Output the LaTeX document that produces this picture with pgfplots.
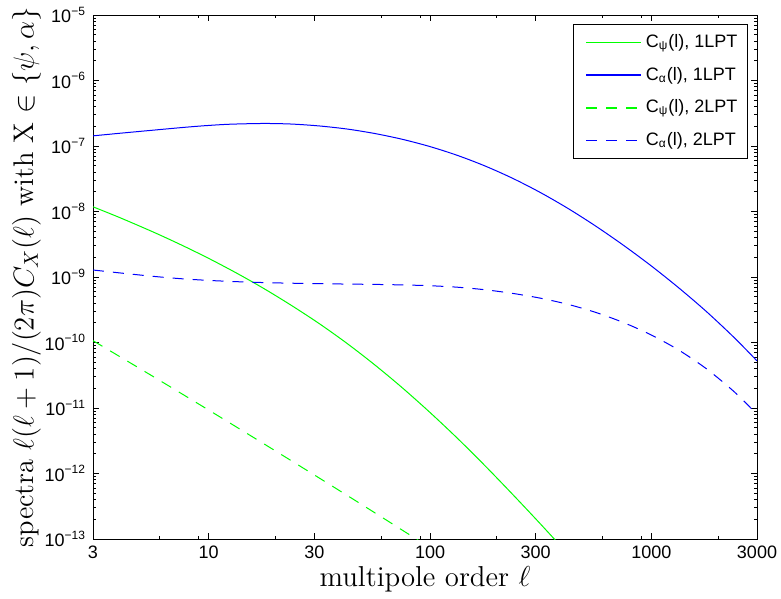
\documentclass[border=0pt]{standalone}
\usepackage{fontspec}
\usepackage{pgfplots}
\pgfplotsset{compat=1.18}
\newfontfamily\arial{Liberation Sans}
\definecolor{mgreen}{rgb}{0,1,0}
\definecolor{mblue}{rgb}{0,0,1}
\begin{document}
\begin{tikzpicture}
\begin{axis}[
  xmode=log, ymode=log,
  scale only axis, width=332pt, height=262pt,
  xmin=3, xmax=3000, ymin=1e-13, ymax=1e-5,
  xtick={3,10,30,100,300,1000,3000},
  xticklabels={3,10,30,100,300,1000,3000},
  minor xtick={6,9,20,60,90,200,600,900,2000},
  ytick={1e-13,1e-12,1e-11,1e-10,1e-9,1e-8,1e-7,1e-6,1e-5},
  yticklabels={10\textsuperscript{−13},10\textsuperscript{−12},10\textsuperscript{−11},10\textsuperscript{−10},10\textsuperscript{−9},10\textsuperscript{−8},10\textsuperscript{−7},10\textsuperscript{−6},10\textsuperscript{−5}},
  minor ytick={2e-13,3e-13,4e-13,5e-13,6e-13,7e-13,8e-13,9e-13,
               2e-12,3e-12,4e-12,5e-12,6e-12,7e-12,8e-12,9e-12,
               2e-11,3e-11,4e-11,5e-11,6e-11,7e-11,8e-11,9e-11,
               2e-10,3e-10,4e-10,5e-10,6e-10,7e-10,8e-10,9e-10,
               2e-9,3e-9,4e-9,5e-9,6e-9,7e-9,8e-9,9e-9,
               2e-8,3e-8,4e-8,5e-8,6e-8,7e-8,8e-8,9e-8,
               2e-7,3e-7,4e-7,5e-7,6e-7,7e-7,8e-7,9e-7,
               2e-6,3e-6,4e-6,5e-6,6e-6,7e-6,8e-6,9e-6},
  tick label style={font=\arial\small},
  tick align=inside,
  major tick length=3pt, minor tick length=1.5pt,
  every tick/.style={black, line width=0.4pt},
  axis line style={black, line width=0.5pt},
  xlabel={multipole order $\ell$},
  ylabel={spectra $\ell(\ell+1)/(2\pi)C_X(\ell)$ with X $\in\{\psi,\alpha\}$},
  xlabel style={font=\fontsize{14.4}{16}\selectfont, yshift=3pt},
  ylabel style={font=\fontsize{14.2}{16}\selectfont, yshift=-5pt},
  legend style={at={(0.9864,0.9828)}, anchor=north east, font=\arial\small,
    draw=black, line width=0.5pt, inner xsep=3pt, inner ysep=3pt, row sep=4.3pt},
  legend cell align=left,
  legend image code/.code={\path (0pt,0pt); \draw[#1, line width=0.7pt] (3pt,0pt) -- (30.5pt,0pt);},
]
\addplot[mgreen, line width=0.5pt, smooth] coordinates {
(3,1.180e-8) (3.981,8.02e-9) (5.623,4.85e-9) (7.499,3.10e-9) (10,1.923e-9)
(13.34,1.151e-9) (17.78,6.64e-10) (23.71,3.66e-10) (31.62,1.936e-10) (42.17,9.68e-11)
(56.23,4.56e-11) (74.99,2.03e-11) (100,8.53e-12) (133.4,3.41e-12) (177.8,1.297e-12)
(237.1,4.73e-13) (316.2,1.68e-13) (421.7,5.81e-14)};
\addlegendentry{C\textsubscript{ψ}(l), 1LPT}
\addplot[mblue, line width=0.5pt, smooth] coordinates {
(3,1.429e-7) (3.981,1.567e-7) (5.623,1.746e-7) (7.943,1.941e-7) (10,2.061e-7)
(12.59,2.153e-7) (17.78,2.208e-7) (23.71,2.163e-7) (31.62,2.023e-7) (42.17,1.816e-7)
(56.23,1.552e-7) (74.99,1.265e-7) (100,9.79e-8) (133.4,7.16e-8) (177.8,4.93e-8)
(237.1,3.19e-8) (316.2,1.936e-8) (421.7,1.104e-8) (562.3,5.94e-9) (749.9,3.03e-9)
(1000,1.472e-9) (1334,6.76e-10) (1778,2.94e-10) (2371,1.18e-10) (3000,5.24e-11)};
\addlegendentry{C\textsubscript{α}(l), 1LPT}
\addplot[mgreen, line width=0.5pt, dash pattern=on 5.5pt off 4.5pt, smooth] coordinates {
(3,1.067e-10) (5.623,3.01e-11) (10,9.29e-12) (17.78,2.83e-12) (31.62,8.51e-13)
(56.23,2.52e-13) (100,7.35e-14)};
\addlegendentry{C\textsubscript{ψ}(l), 2LPT}
\addplot[mblue, line width=0.5pt, dash pattern=on 5.5pt off 4.5pt, smooth] coordinates {
(3,1.279e-9) (3.981,1.153e-9) (5.623,1.023e-9) (7.499,9.42e-10) (10,8.87e-10)
(13.34,8.49e-10) (17.78,8.22e-10) (23.71,8.04e-10) (31.62,7.91e-10) (42.17,7.80e-10)
(56.23,7.71e-10) (74.99,7.57e-10) (100,7.36e-10) (133.4,6.98e-10) (177.8,6.38e-10)
(237.1,5.61e-10) (316.2,4.74e-10) (421.7,3.81e-10) (562.3,2.87e-10) (749.9,2.01e-10)
(1000,1.30e-10) (1334,7.60e-11) (1778,3.94e-11) (2371,1.76e-11) (3000,8.0e-12)};
\addlegendentry{C\textsubscript{α}(l), 2LPT}
\end{axis}
\pgfresetboundingbox
\path (current axis.south west) ++(-46.5pt,-30pt) rectangle ++(390.5pt,299.5pt);
\end{tikzpicture}
\end{document}
